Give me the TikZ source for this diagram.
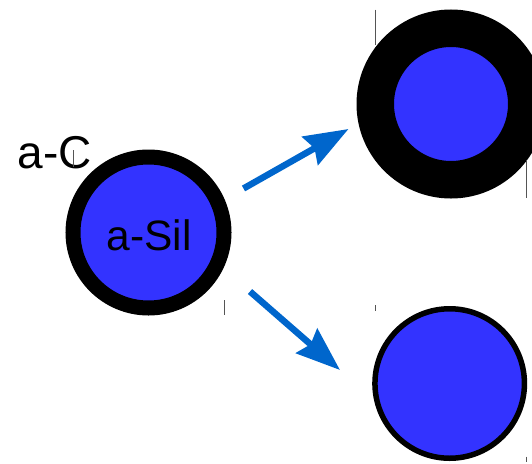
\documentclass[tikz,border=0pt]{standalone}
\usepackage{fontspec}
\setmainfont{Liberation Sans}
\usetikzlibrary{arrows.meta}
\definecolor{core}{HTML}{3333FF}
\definecolor{arrowblue}{HTML}{0066CC}
\definecolor{tick}{HTML}{555555}
\tikzset{
  particle/.style={circle, draw=black, fill=core, inner sep=0pt},
  flow/.style={arrowblue, line width=6.5pt,
    -{Stealth[length=44pt 0, width=32pt 0, inset=5pt 0]}},
  mark line/.style={tick, line width=1pt},
}
\begin{document}
\begin{tikzpicture}[x=1pt, y=-1pt]
  \useasboundingbox (0,0) rectangle (532,463);
  % coated particle (left)
  \node[particle, line width=15pt, minimum size=151pt] (left) at (148.5,232.5) {};
  \node[anchor=base, font=\fontsize{42.5}{42.5}\selectfont] (sil) at (149,250) {a-Sil};
  \node[anchor=base, font=\fontsize{46}{46}\selectfont] (carbon) at (54.5,168) {a-C};
  % thick shell (top right)
  \node[particle, line width=37.5pt, minimum size=151.5pt] (thick) at (451,104) {};
  % thin shell (bottom right)
  \node[particle, line width=5.5pt, minimum size=149.5pt] (thin) at (449.7,383.5) {};
  % arrow end points
  \coordinate (up0) at (243.5,188.5);
  \coordinate (up1) at (348.5,129);
  \coordinate (dn0) at (250,291.5);
  \coordinate (dn1) at (340,370);
  \draw[flow] (up0) -- (up1);
  \draw[flow] (dn0) -- (dn1);
  % small corner marks
  \coordinate (m1) at (375.7,9.5);   \coordinate (m1e) at (375.7,45);
  \coordinate (m2) at (526.7,160);   \coordinate (m2e) at (526.7,198);
  \coordinate (m3) at (73,150);      \coordinate (m3e) at (73,167);
  \coordinate (m4) at (224.3,300);   \coordinate (m4e) at (224.3,315);
  \coordinate (m5) at (375.7,305);   \coordinate (m5e) at (375.7,310.7);
  \coordinate (m6) at (526.7,456.7); \coordinate (m6e) at (526.7,461.7);
  \foreach \a/\b in {m1/m1e, m2/m2e, m3/m3e, m4/m4e, m5/m5e, m6/m6e}
    \draw[mark line] (\a) -- (\b);
\end{tikzpicture}
\end{document}
